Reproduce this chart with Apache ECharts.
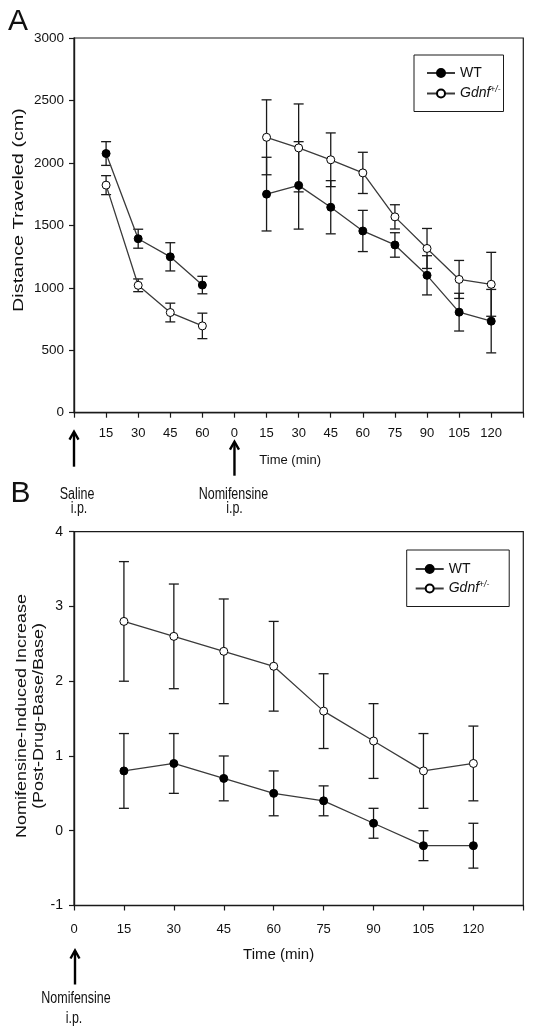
<!DOCTYPE html>
<html><head><meta charset="utf-8">
<script src="https://cdn.jsdelivr.net/npm/echarts@6/dist/echarts.min.js"></script>
<style>html,body{margin:0;padding:0;background:#fff;} #c{width:534px;height:1031px;}</style>
</head><body><div id="c"></div>
<script>
// ---------- data ----------
const salineTimes = [15, 30, 45, 60];
const nomiTimes = [15, 30, 45, 60, 75, 90, 105, 120];
const xTickLabelsA = ['', '15', '30', '45', '60', '0', '15', '30', '45', '60', '75', '90', '105', '120', ''];
const wtSaline = [2075, 1393, 1248, 1022];
const wtSalineErr = [95, 76, 113, 70];
const gdnfSaline = [1822, 1020, 802, 695];
const gdnfSalineErr = [76, 51, 75, 102];
const wtNomi = [1750, 1820, 1645, 1455, 1343, 1100, 805, 733];
const wtNomiErr = [295, 350, 213, 165, 98, 157, 151, 254];
const gdnfNomi = [2205, 2120, 2025, 1920, 1568, 1315, 1067, 1028];
const gdnfNomiErr = [300, 352, 215, 165, 97, 160, 152, 256];

const timesB = [15, 30, 45, 60, 75, 90, 105, 120];
const xTickLabelsB = ['0', '15', '30', '45', '60', '75', '90', '105', '120', ''];
const wtB = [0.8, 0.9, 0.7, 0.5, 0.4, 0.1, -0.2, -0.2];
const wtBErr = [0.5, 0.4, 0.3, 0.3, 0.2, 0.2, 0.2, 0.3];
const gdnfB = [2.8, 2.6, 2.4, 2.2, 1.6, 1.2, 0.8, 0.9];
const gdnfBErr = [0.8, 0.7, 0.7, 0.6, 0.5, 0.5, 0.5, 0.5];

// ---------- helpers ----------
const FONT = "'Liberation Sans', Arial, sans-serif";
const INK = '#1a1a1a';

const salinePos = i => 1 + i;
const nomiPos = i => salineTimes.length + 2 + i;

function lineDataA(sal, nom) {
  return [...sal.map((v, i) => [salinePos(i), v]), [salineTimes.length + 1, '-'], ...nom.map((v, i) => [nomiPos(i), v])];
}
function errDataA(sal, salE, nom, nomE) {
  return [...sal.map((v, i) => [salinePos(i), v, salE[i]]), ...nom.map((v, i) => [nomiPos(i), v, nomE[i]])];
}

function errRender(params, api) {
  const x = api.value(0), y = api.value(1), e = api.value(2);
  const t = api.coord([x, y + e]);
  const b = api.coord([x, y - e]);
  const hw = 5;
  const st = { stroke: INK, lineWidth: 1.3 };
  return {
    type: 'group', children: [
      { type: 'line', shape: { x1: t[0], y1: t[1], x2: b[0], y2: b[1] }, style: st },
      { type: 'line', shape: { x1: t[0] - hw, y1: t[1], x2: t[0] + hw, y2: t[1] }, style: st },
      { type: 'line', shape: { x1: b[0] - hw, y1: b[1], x2: b[0] + hw, y2: b[1] }, style: st }
    ]
  };
}

const wtStyle = { color: '#000', borderColor: '#000', borderWidth: 1 };
const gdStyle = { color: '#fff', borderColor: '#000', borderWidth: 1 };
const lineSt = { color: '#3a3a3a', width: 1.3 };

function axisCommon() {
  return {
    axisLine: { show: true, onZero: false, lineStyle: { color: INK, width: 1.4 } },
    axisTick: { show: true, inside: false, length: 5, lineStyle: { color: INK, width: 1.2 } },
    splitLine: { show: false },
  };
}

const legendText = {
  fontFamily: FONT, fontSize: 14, color: '#111', lineHeight: 16,
  rich: {
    i: { fontStyle: 'italic', fontSize: 14, fontFamily: FONT, color: '#111' },
    s: { fontStyle: 'italic', fontSize: 8.5, fontFamily: FONT, color: '#111', padding: [0, 0, 8, 0] }
  }
};
const legendFmt = n => n === 'Gdnf' ? '{i|Gdnf}{s|+/-}' : n;

const chart = echarts.init(document.getElementById('c'), null, { renderer: 'canvas' });

const option = {
  animation: false,
  backgroundColor: '#fff',
  grid: [
    { left: 74, top: 38, width: 449.3, height: 374.7, show: true, borderColor: INK, borderWidth: 1.2, backgroundColor: 'transparent' },
    { left: 74, top: 531.7, width: 449.3, height: 373.8, show: true, borderColor: INK, borderWidth: 1.2, backgroundColor: 'transparent' }
  ],
  legend: [
    { left: 414, top: 55, orient: 'vertical', padding: [10, 3, 10, 12], itemGap: 4, itemWidth: 28, itemHeight: 10,
      borderColor: INK, borderWidth: 1, data: ['WT', 'Gdnf'], textStyle: legendText, formatter: legendFmt, selectedMode: false },
    { left: 406.7, top: 550, orient: 'vertical', padding: [11, 20, 10, 8], itemGap: 3, itemWidth: 28, itemHeight: 10,
      borderColor: INK, borderWidth: 1, data: ['WT', 'Gdnf'], textStyle: legendText, formatter: legendFmt, selectedMode: false }
  ],
  xAxis: [
    Object.assign(axisCommon(), {
      type: 'value', gridIndex: 0, min: 0, max: xTickLabelsA.length - 1, interval: 1,
      axisLabel: { margin: 14, fontFamily: FONT, fontSize: 13, color: '#111', formatter: v => xTickLabelsA[v] ?? '' },
      name: 'Time (min)', nameLocation: 'middle', nameGap: 41,
      nameTextStyle: { fontFamily: FONT, fontSize: 13, color: '#111', padding: [0, 17, 0, 0] }
    }),
    Object.assign(axisCommon(), {
      type: 'value', gridIndex: 1, min: 0, max: 135, interval: 15,
      axisLabel: { margin: 17, fontFamily: FONT, fontSize: 13, color: '#111', formatter: v => xTickLabelsB[Math.round(v / 15)] ?? '' },
      name: 'Time (min)', nameLocation: 'middle', nameGap: 42,
      nameTextStyle: { fontFamily: FONT, fontSize: 15, color: '#111', padding: [0, 40, 0, 0] }
    })
  ],
  yAxis: [
    Object.assign(axisCommon(), {
      type: 'value', gridIndex: 0, min: 0, max: 3000, interval: 500,
      axisLabel: { margin: 10, fontFamily: FONT, fontSize: 13.5, color: '#111', formatter: v => String(v) }
    }),
    Object.assign(axisCommon(), {
      type: 'value', gridIndex: 1, min: -1, max: 4, interval: 1,
      axisLabel: { margin: 11, fontFamily: FONT, fontSize: 14, color: '#111', formatter: v => String(v) }
    })
  ],
  series: [
    { type: 'custom', name: 'errWT_A', xAxisIndex: 0, yAxisIndex: 0, z: 2, renderItem: errRender,
      data: errDataA(wtSaline, wtSalineErr, wtNomi, wtNomiErr) },
    { type: 'custom', name: 'errGd_A', xAxisIndex: 0, yAxisIndex: 0, z: 2, renderItem: errRender,
      data: errDataA(gdnfSaline, gdnfSalineErr, gdnfNomi, gdnfNomiErr) },
    { type: 'line', name: 'WT', xAxisIndex: 0, yAxisIndex: 0, z: 3, symbol: 'circle', symbolSize: 8,
      itemStyle: wtStyle, lineStyle: lineSt, data: lineDataA(wtSaline, wtNomi) },
    { type: 'line', name: 'Gdnf', xAxisIndex: 0, yAxisIndex: 0, z: 4, symbol: 'circle', symbolSize: 8,
      itemStyle: gdStyle, lineStyle: lineSt, data: lineDataA(gdnfSaline, gdnfNomi) },

    { type: 'custom', name: 'errWT_B', xAxisIndex: 1, yAxisIndex: 1, z: 2, renderItem: errRender,
      data: timesB.map((t, i) => [t, wtB[i], wtBErr[i]]) },
    { type: 'custom', name: 'errGd_B', xAxisIndex: 1, yAxisIndex: 1, z: 2, renderItem: errRender,
      data: timesB.map((t, i) => [t, gdnfB[i], gdnfBErr[i]]) },
    { type: 'line', name: 'WT', xAxisIndex: 1, yAxisIndex: 1, z: 3, symbol: 'circle', symbolSize: 8,
      itemStyle: wtStyle, lineStyle: lineSt, data: timesB.map((t, i) => [t, wtB[i]]) },
    { type: 'line', name: 'Gdnf', xAxisIndex: 1, yAxisIndex: 1, z: 4, symbol: 'circle', symbolSize: 8,
      itemStyle: gdStyle, lineStyle: lineSt, data: timesB.map((t, i) => [t, gdnfB[i]]) }
  ]
};
chart.setOption(option);

// ---------- annotations (placed from axis coordinates) ----------
const a0 = chart.convertToPixel({ gridIndex: 0 }, [0, 0]);
const aN = chart.convertToPixel({ gridIndex: 0 }, [salineTimes.length + 1, 0]);
const b0 = chart.convertToPixel({ gridIndex: 1 }, [0, -1]);

function arrow(x, yTip, yBot) {
  return { type: 'group', children: [
    { type: 'line', shape: { x1: x, y1: yTip + 1, x2: x, y2: yBot }, style: { stroke: '#000', lineWidth: 2.4 } },
    { type: 'polyline', shape: { points: [[x - 4.5, yTip + 8], [x, yTip], [x + 4.5, yTip + 8]] }, style: { stroke: '#000', lineWidth: 2.4, fill: null } }
  ] };
}
function txt(text, x, y, size, extra) {
  return Object.assign({ type: 'text', x, y, style: { text, fontSize: size, fontFamily: FONT, fill: '#111', align: 'center', verticalAlign: 'middle' } }, extra || {});
}
const tall = { scaleY: 1.25 };

chart.setOption({
  graphic: [
    txt('A', 18, 22, 30),
    txt('B', 20.5, 494, 30),
    arrow(a0[0], a0[1] + 19, a0[1] + 54),
    arrow(aN[0], a0[1] + 29, a0[1] + 63),
    txt('Saline', a0[0] + 3, a0[1] + 82, 12.5, tall),
    txt('i.p.', a0[0] + 5, a0[1] + 96, 12.5, tall),
    txt('Nomifensine', aN[0] - 1, a0[1] + 82, 12.5, tall),
    txt('i.p.', aN[0], a0[1] + 96, 12.5, tall),
    arrow(b0[0] + 1, b0[1] + 45, b0[1] + 79),
    txt('Nomifensine', b0[0] + 2, b0[1] + 93.5, 12.5, tall),
    txt('i.p.', b0[0], b0[1] + 113, 12.5, tall),
    txt('Distance Traveled (cm)', 19, 210, 15, { rotation: Math.PI / 2, scaleX: 1.32 }),
    txt('Nomifensine-Induced Increase', 22, 716, 15, { rotation: Math.PI / 2, scaleX: 1.2 }),
    txt('(Post-Drug-Base/Base)', 39, 716, 15, { rotation: Math.PI / 2, scaleX: 1.2 })
  ]
});
</script>
</body></html>
